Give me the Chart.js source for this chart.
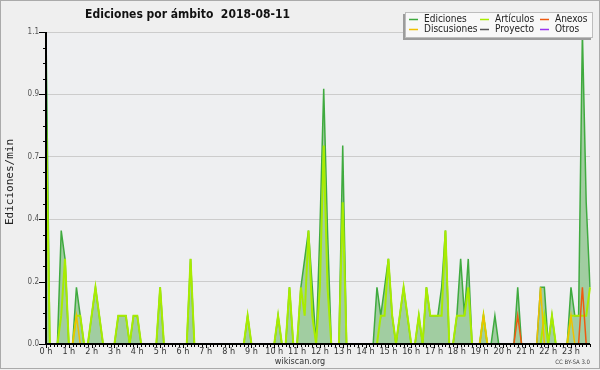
<!DOCTYPE html>
<html>
<head>
<meta charset="utf-8">
<script src="https://cdn.jsdelivr.net/npm/chart.js@4/dist/chart.umd.min.js"></script>
<style>
html,body{margin:0;padding:0;background:#efefef;}
#wrap{width:600px;height:370px;position:relative;}
</style>
</head>
<body>
<div id="wrap"><canvas id="c" width="600" height="370"></canvas></div>
<script>
// ---- data (10-minute bins, edits per minute) ----
const hourLabels = ['0 h','1 h','2 h','3 h','4 h','5 h','6 h','7 h','8 h','9 h','10 h','11 h',
  '12 h','13 h','14 h','15 h','16 h','17 h','18 h','19 h','20 h','21 h','22 h','23 h'];
const yTickValues = [0, 0.22, 0.44, 0.66, 0.88, 1.1];
const seriesNames = ['Ediciones','Discusiones','Artículos','Proyecto','Anexos','Otros'];

const ediciones = [
  1.1,0,0,0,0.4,0.3, 0,0,0.2,0.1,0,0,
  0.1,0.2,0.1,0,0,0, 0,0.1,0.1,0.1,0,0.1,
  0.1,0,0,0,0,0, 0.2,0,0,0,0,0,
  0,0,0.3,0,0,0, 0,0,0,0,0,0,
  0,0,0,0,0,0.1, 0,0,0,0,0,0,
  0,0.1,0,0,0.2,0, 0,0.2,0.3,0.4,0.2,0,
  0.4,0.9,0.4,0,0,0, 0.7,0,0,0,0,0,
  0,0,0,0.2,0.1,0.2, 0.3,0.1,0,0.1,0.2,0.1,
  0,0,0.1,0,0.2,0.1, 0.1,0.1,0.2,0.4,0,0,
  0.1,0.3,0.1,0.3,0,0, 0,0.1,0,0,0.1,0,
  0,0,0,0,0.2,0, 0,0,0,0,0.2,0.2,
  0,0.1,0,0,0,0, 0.2,0.1,0.1,1.1,0.5,0.2
];
const articulos = [
  0.8,0,0,0,0.1,0.3, 0,0,0.1,0.1,0,0,
  0.1,0.2,0.1,0,0,0, 0,0.1,0.1,0.1,0,0.1,
  0.1,0,0,0,0,0, 0.2,0,0,0,0,0,
  0,0,0.3,0,0,0, 0,0,0,0,0,0,
  0,0,0,0,0,0.1, 0,0,0,0,0,0,
  0,0.1,0,0,0.2,0, 0,0.2,0.1,0.4,0.1,0,
  0.2,0.7,0.2,0,0,0, 0.5,0,0,0,0,0,
  0,0,0,0,0.1,0.1, 0.3,0.1,0,0.1,0.2,0.1,
  0,0,0.1,0,0.2,0.1, 0.1,0.1,0.1,0.4,0,0,
  0.1,0.1,0.1,0.2,0,0, 0,0.1,0,0,0,0,
  0,0,0,0,0,0, 0,0,0,0,0,0.1,
  0,0.1,0,0,0,0, 0.1,0.1,0.1,0.1,0.1,0.2
];
const discusiones = [
  0,0,0,0,0,0, 0,0,0.1,0,0,0,
  0,0,0,0,0,0, 0,0,0,0,0,0,
  0,0,0,0,0,0, 0,0,0,0,0,0,
  0,0,0,0,0,0, 0,0,0,0,0,0,
  0,0,0,0,0,0, 0,0,0,0,0,0,
  0,0,0,0,0,0, 0,0,0,0,0,0,
  0,0,0,0,0,0, 0,0,0,0,0,0,
  0,0,0,0,0,0, 0,0,0,0,0,0,
  0,0,0,0,0,0, 0,0,0,0,0,0,
  0,0,0,0,0,0, 0,0.1,0,0,0,0,
  0,0,0,0,0,0, 0,0,0,0,0.2,0,
  0,0,0,0,0,0, 0.1,0,0,0,0,0
];
const anexos = [
  0,0,0,0,0,0, 0,0,0,0,0,0,
  0,0,0,0,0,0, 0,0,0,0,0,0,
  0,0,0,0,0,0, 0,0,0,0,0,0,
  0,0,0,0,0,0, 0,0,0,0,0,0,
  0,0,0,0,0,0, 0,0,0,0,0,0,
  0,0,0,0,0,0, 0,0,0,0,0,0,
  0,0,0,0,0,0, 0,0,0,0,0,0,
  0,0,0,0,0,0, 0,0,0,0,0,0,
  0,0,0,0,0,0, 0,0,0,0,0,0,
  0,0,0,0,0,0, 0,0,0,0,0,0,
  0,0,0,0,0.1,0, 0,0,0,0,0,0,
  0,0,0,0,0,0, 0,0,0,0.2,0,0
];
const proyecto = [
  0,0,0,0,0,0, 0,0,0,0,0,0,  0,0,0,0,0,0, 0,0,0,0,0,0,
  0,0,0,0,0,0, 0,0,0,0,0,0,  0,0,0,0,0,0, 0,0,0,0,0,0,
  0,0,0,0,0,0, 0,0,0,0,0,0,  0,0,0,0,0,0, 0,0,0,0,0,0,
  0,0,0,0,0,0, 0,0,0,0,0,0,  0,0,0,0,0,0, 0,0,0,0,0,0,
  0,0,0,0,0,0, 0,0,0,0,0,0,  0,0,0,0,0,0, 0,0,0,0,0,0,
  0,0,0,0,0,0, 0,0,0,0,0,0,  0,0,0,0,0,0, 0,0,0,0,0,0
];
const otros = [
  0,0,0,0,0,0, 0,0,0,0,0,0,  0,0,0,0,0,0, 0,0,0,0,0,0,
  0,0,0,0,0,0, 0,0,0,0,0,0,  0,0,0,0,0,0, 0,0,0,0,0,0,
  0,0,0,0,0,0, 0,0,0,0,0,0,  0,0,0,0,0,0, 0,0,0,0,0,0,
  0,0,0,0,0,0, 0,0,0,0,0,0,  0,0,0,0,0,0, 0,0,0,0,0,0,
  0,0,0,0,0,0, 0,0,0,0,0,0,  0,0,0,0,0,0, 0,0,0,0,0,0,
  0,0,0,0,0,0, 0,0,0,0,0,0,  0,0,0,0,0,0, 0,0,0,0,0,0
];

// category labels: one per 10-minute bin
const bins = ediciones.map((_, i) => String(Math.floor(i / 6)).padStart(2, '0') + ':' + String((i % 6) * 10).padStart(2, '0'));

const FONT = "'DejaVu Sans Condensed', 'DejaVu Sans', sans-serif";

const decor = {
  id: 'decor',
  beforeDraw(chart) {
    const ctx = chart.ctx, a = chart.chartArea;
    ctx.save();
    ctx.fillStyle = '#efefef';
    ctx.fillRect(0, 0, chart.width, chart.height);
    ctx.fillStyle = '#eeeff1';
    ctx.fillRect(a.left, a.top, a.right - a.left, a.bottom - a.top);
    ctx.restore();
  },
  afterDatasetsDraw(chart) {
    const ctx = chart.ctx, a = chart.chartArea;
    const xs = chart.scales.x, ys = chart.scales.y;
    ctx.save();
    ctx.strokeStyle = '#000';
    ctx.lineWidth = 1;
    const yMax = yTickValues[yTickValues.length - 1];
    const sub = (yTickValues[1] - yTickValues[0]) / 4;
    ctx.beginPath();
    for (let k = 0; k * sub <= yMax + 1e-9; k++) {
      const py = Math.round(ys.getPixelForValue(k * sub)) + 0.5;
      const len = (k % 4 === 0) ? 7 : 3;
      ctx.moveTo(a.left - len, py);
      ctx.lineTo(a.left, py);
    }
    for (let i = 0; i < bins.length; i++) {
      const px = Math.round(xs.getPixelForValue(i)) + 0.5;
      const len = (i % 6 === 0) ? 4 : 3;
      ctx.moveTo(px, a.bottom);
      ctx.lineTo(px, a.bottom + len);
    }
    ctx.stroke();
    ctx.lineWidth = 2;
    ctx.beginPath();
    ctx.moveTo(a.left, a.top);
    ctx.lineTo(a.left, a.bottom + 1);
    ctx.moveTo(a.left - 1, a.bottom);
    ctx.lineTo(a.right, a.bottom);
    ctx.stroke();
    ctx.restore();
  },
  afterDraw(chart) {
    const ctx = chart.ctx;
    ctx.save();
    ctx.fillStyle = '#111';
    ctx.font = 'bold 12px ' + FONT;
    ctx.textAlign = 'center';
    ctx.textBaseline = 'alphabetic';
    ctx.fillText('Ediciones por ámbito  2018-08-11', 187.5, 18);
    ctx.save();
    ctx.translate(10, 182);
    ctx.rotate(-Math.PI / 2);
    ctx.font = "11px 'DejaVu Sans Mono', monospace";
    ctx.fillStyle = '#222';
    ctx.textBaseline = 'middle';
    ctx.fillText('Ediciones/min', 0, 0);
    ctx.restore();
    ctx.font = '9px ' + FONT;
    ctx.fillStyle = '#333';
    ctx.textAlign = 'center';
    ctx.fillText('wikiscan.org', 300, 364);
    ctx.font = '6px ' + FONT;
    ctx.fillStyle = '#444';
    ctx.textAlign = 'right';
    ctx.fillText('CC BY-SA 3.0', 590, 364);
    // legend
    const lx = 405, ly = 12, lw = 188, lh = 26;
    ctx.fillStyle = '#9c9c9c';
    ctx.fillRect(lx - 2, ly + 2, lw, lh);
    ctx.fillStyle = '#f8f8f8';
    ctx.fillRect(lx, ly, lw, lh);
    ctx.strokeStyle = '#bdbdbd';
    ctx.lineWidth = 1;
    ctx.strokeRect(lx + 0.5, ly + 0.5, lw - 1, lh - 1);
    const colX = [409, 480, 540], rowY = [19.5, 29.5];
    ctx.font = '10px ' + FONT;
    ctx.textAlign = 'left';
    ctx.textBaseline = 'middle';
    chart.data.datasets.forEach((ds, k) => {
      const cx = colX[Math.floor(k / 2)], cy = rowY[k % 2];
      ctx.strokeStyle = ds.borderColor;
      ctx.lineWidth = 1.5;
      ctx.beginPath();
      ctx.moveTo(cx, cy);
      ctx.lineTo(cx + 9, cy);
      ctx.stroke();
      ctx.fillStyle = '#222';
      ctx.fillText(ds.label, cx + 15, cy);
    });
    ctx.strokeStyle = '#aaaaaa';
    ctx.lineWidth = 1;
    ctx.strokeRect(0.5, 0.5, 599, 368);
    ctx.restore();
  }
};

const mk = (label, data, color, width, order, extra) => Object.assign({
  label, data, borderColor: color, borderWidth: width, order,
  pointRadius: 0, tension: 0, fill: false
}, extra || {});

new Chart(document.getElementById('c'), {
  type: 'line',
  data: {
    labels: bins,
    datasets: [
      mk(seriesNames[0], ediciones, '#3faa3f', 1.5, 10, {fill: 'origin', backgroundColor: '#a1cda1'}),
      mk(seriesNames[1], discusiones, '#f0c000', 1.5, 4),
      mk(seriesNames[2], articulos, '#a8ec00', 2, 5),
      mk(seriesNames[3], proyecto, '#555555', 1, 2),
      mk(seriesNames[4], anexos, '#ee5a10', 1.5, 3),
      mk(seriesNames[5], otros, '#9933ee', 1, 1)
    ]
  },
  options: {
    responsive: false,
    animation: false,
    devicePixelRatio: 1,
    layout: {padding: {top: 32, right: 10, left: 0, bottom: 0}},
    plugins: {legend: {display: false}, tooltip: {enabled: false}, title: {display: false}},
    scales: {
      x: {
        type: 'category',
        grid: {display: false, drawTicks: false},
        border: {display: false},
        ticks: {
          autoSkip: false, maxRotation: 0, minRotation: 0, padding: 2,
          color: '#333', font: {family: FONT, size: 9},
          callback: (v, i) => (i % 6 === 0 ? hourLabels[i / 6] : null)
        },
        afterFit: s => { s.height = 26; }
      },
      y: {
        min: 0, max: yTickValues[yTickValues.length - 1],
        grid: {color: '#cccccc', lineWidth: 1, drawTicks: false},
        border: {display: false},
        ticks: {
          padding: 7, color: '#555', font: {family: FONT, size: 8},
          callback: v => Number(v).toFixed(1)
        },
        afterBuildTicks: s => { s.ticks = yTickValues.map(v => ({value: v})); },
        afterFit: s => { s.width = 46; }
      }
    }
  },
  plugins: [decor]
});
</script>
</body>
</html>
